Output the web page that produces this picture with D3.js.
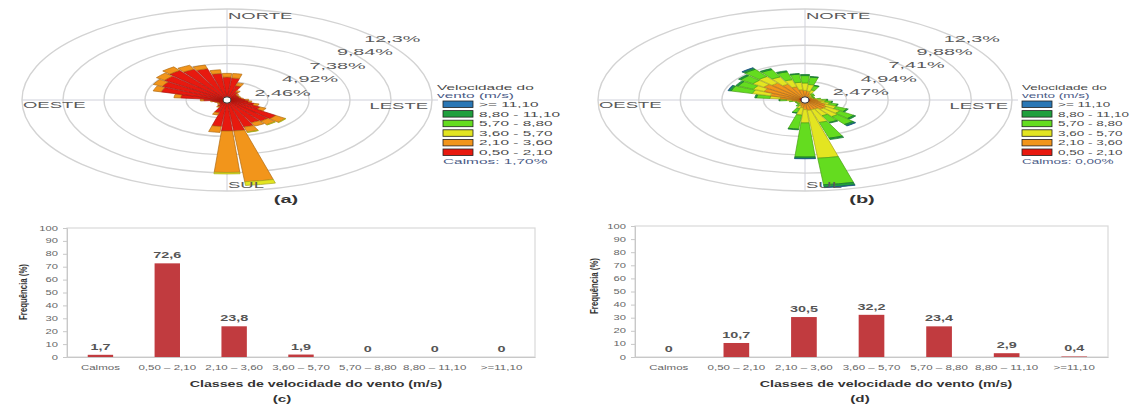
<!DOCTYPE html>
<html><head><meta charset="utf-8">
<script src="https://cdn.jsdelivr.net/npm/d3@7"></script>
<style>body{margin:0;background:#fff}svg{display:block}</style>
</head><body>
<svg id="c" width="1137" height="404"></svg>
<script>
// ---------------- DATA ----------------
const roseDirs = [0,10,20,30,40,50,60,70,80,90,100,110,120,130,140,150,160,170,180,190,200,210,220,230,240,250,260,270,280,290,300,310,320,330,340,350];
const speedLabels = ["0,50 - 2,10","2,10 - 3,60","3,60 - 5,70","5,70 - 8,80","8,80 - 11,10",">= 11,10"];
const speedColors = ["#e8190f","#f2951b","#e3e521","#64dc1f","#1f9f3d","#2a77b5"];
const cardinals = ["NORTE","LESTE","SUL","OESTE"];

const ringsA = [2.46,4.92,7.38,9.84,12.3];
const ringLabelsA = ["2,46%","4,92%","7,38%","9,84%","12,3%"];
const ringsB = [2.47,4.94,7.41,9.88,12.3];
const ringLabelsB = ["2,47%","4,94%","7,41%","9,88%","12,3%"];
const calmA = "Calmos: 1,70%";
const calmB = "Calmos: 0,00%";

// rose (a): frequency (%) per direction for each speed class
const roseA_050_210 = [3.1,3.0,2.0,1.2,0.9,0.8,0.8,0.8,0.9,1.1,1.3,1.7,2.2,3.6,3.5,3.4,3.8,4.2,4.2,3.6,1.8,1.0,0.7,0.6,0.6,0.7,0.9,1.4,2.8,4.1,4.3,4.6,4.9,4.6,4.4,3.6];
const roseA_210_360 = [0.5,0.6,0.4,0.2,0.1,0.1,0.1,0.1,0.1,0.2,0.2,0.3,0.4,0.7,0.6,0.5,0.7,6.9,5.6,0.8,0.3,0.1,0.1,0.1,0.1,0.1,0.1,0.2,0.4,0.5,0.6,0.6,0.6,0.6,0.5,0.5];
const roseA_360_570 = [0,0,0,0,0,0,0,0,0,0,0,0,0,0.05,0.05,0,0.05,0.5,0.2,0,0,0,0,0,0,0,0,0,0,0,0,0,0,0,0,0];

// rose (b)
const roseB_050_210 = [0.3,0.3,0.3,0.25,0.25,0.25,0.25,0.25,0.25,0.3,0.3,0.3,0.35,0.35,0.35,0.35,0.35,0.4,0.4,0.35,0.3,0.25,0.25,0.25,0.25,0.25,0.25,0.3,0.3,0.35,0.4,0.4,0.4,0.35,0.35,0.3];
const roseB_210_360 = [1.0,0.9,0.6,0.3,0.2,0.2,0.2,0.2,0.3,0.4,0.5,0.7,1.0,1.2,1.2,1.0,1.0,1.0,0.9,0.7,0.5,0.3,0.2,0.2,0.2,0.2,0.3,0.5,1.2,1.8,2.3,2.6,2.4,2.0,1.5,1.1];
const roseB_360_570 = [1.0,0.9,0.5,0.2,0.2,0.1,0.1,0.1,0.2,0.3,0.4,0.5,0.7,1.0,1.2,1.0,1.8,6.5,1.8,1.0,0.4,0.2,0.1,0.1,0.1,0.1,0.2,0.3,0.6,1.1,0.7,0.8,1.1,1.1,1.0,1.0];
const roseB_570_880 = [1.0,1.0,0.6,0.2,0.2,0.1,0.1,0.1,0.2,0.3,0.4,0.5,0.7,1.0,1.3,1.0,2.2,3.6,4.6,1.9,0.6,0.2,0.1,0.1,0.1,0.1,0.2,0.4,0.8,1.3,1.0,0.9,1.2,1.1,1.1,1.1];
const roseB_880_1110 = [0.15,0.1,0.05,0,0,0,0,0,0,0.05,0.05,0.05,0.1,0.15,0.2,0.1,0.2,0.35,0.2,0.1,0.05,0,0,0,0,0,0,0.05,0.1,0.15,0.15,0.15,0.2,0.15,0.15,0.1];
const roseB_1110 = [0,0,0,0,0,0,0,0,0,0,0,0,0,0,0.05,0,0,0.05,0.05,0,0,0,0,0,0,0,0,0,0,0.05,0,0,0.05,0,0,0];

// bar charts
const barCats = ["Calmos","0,50 – 2,10","2,10 – 3,60","3,60 – 5,70","5,70 – 8,80","8,80 – 11,10",">=11,10"];
const barValsC = [1.7,72.6,23.8,1.9,0,0,0];
const barLabelsC = ["1,7","72,6","23,8","1,9","0","0","0"];
const barValsD = [0,10.7,30.5,32.2,23.4,2.9,0.4];
const barLabelsD = ["0","10,7","30,5","32,2","23,4","2,9","0,4"];
const yTicks = [0,10,20,30,40,50,60,70,80,90,100];
const yTitle = "Frequência (%)";
const xTitle = "Classes de velocidade do vento (m/s)";

// ---------------- DRAW ----------------
const svg = d3.select("#c");
const FONT = "'Liberation Sans', Arial, sans-serif";

function stext(parent, x, y, str, o) {
  o = o || {};
  return parent.append("text")
    .attr("transform", `translate(${x},${y}) scale(${o.sx || 1},1)` + (o.rot ? ` rotate(${o.rot})` : ""))
    .attr("text-anchor", o.anchor || "start")
    .attr("font-family", FONT)
    .attr("font-size", o.size || 8)
    .attr("font-weight", o.bold ? "bold" : "normal")
    .attr("fill", o.fill || "#585858")
    .text(str);
}

function drawRose(cfg) {
  const g = svg.append("g");
  const cx = cfg.cx, cy = cfg.cy, rx = cfg.rx, ry = cfg.ry, k = ry / rx;
  const r = d3.scaleLinear().domain([0, d3.max(cfg.rings)]).range([0, rx]);

  // axis lines
  g.append("line").attr("x1", cx - rx).attr("x2", cx + rx + 6).attr("y1", cy).attr("y2", cy)
    .attr("stroke", "#c9cbd6").attr("stroke-width", 0.9);
  g.append("line").attr("x1", cx).attr("x2", cx).attr("y1", cy - ry).attr("y2", cy + ry)
    .attr("stroke", "#c9cbd6").attr("stroke-width", 0.9);

  const pg = g.append("g").attr("transform", `translate(${cx},${cy}) scale(1,${k})`);
  pg.selectAll("circle.ring").data(cfg.rings).join("circle").attr("class", "ring")
    .attr("r", d => r(d)).attr("fill", "none").attr("stroke", "#d3d3d3")
    .attr("stroke-width", 1.4).attr("vector-effect", "non-scaling-stroke");

  // stacked petals
  const stacked = [];
  roseDirs.forEach((dir, i) => {
    let acc = 0;
    cfg.series.forEach((s, j) => {
      const v = s[i];
      if (v > 0) stacked.push({dir: dir, y0: acc, y1: acc + v, c: j});
      acc += v;
    });
  });
  const w = 9 * Math.PI / 180;
  const arc = d3.arc()
    .innerRadius(d => r(d.y0)).outerRadius(d => r(d.y1))
    .startAngle(d => d.dir * Math.PI / 180 - w / 2)
    .endAngle(d => d.dir * Math.PI / 180 + w / 2);
  pg.selectAll("path.petal").data(stacked).join("path").attr("class", "petal")
    .attr("d", arc)
    .attr("fill", d => speedColors[d.c])
    .attr("stroke", d => d3.color(speedColors[d.c]).darker(0.9))
    .attr("stroke-width", 0.7).attr("vector-effect", "non-scaling-stroke");

  g.append("ellipse").attr("cx", cx).attr("cy", cy).attr("rx", 4).attr("ry", 3.2)
    .attr("fill", "#fff").attr("stroke", "#333").attr("stroke-width", 1);

  // ring labels
  cfg.rings.forEach((v, i) => {
    stext(g, cx + r(v) * 0.67, cy - r(v) * k * 0.74 + 9, cfg.ringLabels[i], {size: 9, sx: 2.2, fill: "#5a5a5a"});
  });

  // cardinal labels
  const cs = {size: 8.8, sx: 2.1, fill: "#5a5a5a"};
  stext(g, cx + 1, cy - ry + 10, cardinals[0], cs);
  stext(g, cx + rx - 4, cy + 9, cardinals[1], Object.assign({anchor: "end"}, cs));
  stext(g, cx + 1, cy + ry - 3, cardinals[2], cs);
  stext(g, cx - rx + 1, cy + 8, cardinals[3], cs);

  // legend
  const L = cfg.legend;
  const ls = {size: 7, sx: L.stretch, fill: "#4a4a4a"};
  stext(g, L.tx, 90, "Velocidade do", ls);
  stext(g, L.tx, 98, "vento (m/s)", Object.assign({}, ls, {fill: "#4a5a86"}));
  [5, 4, 3, 2, 1, 0].forEach((c, i) => {
    const yy = 101 + i * 9.6;
    g.append("rect").attr("x", L.sx).attr("y", yy).attr("width", 30).attr("height", 6.5)
      .attr("fill", speedColors[c]).attr("stroke", "#222").attr("stroke-width", 0.8);
    stext(g, L.sx + 36, yy + 6, speedLabels[c], ls);
  });
  stext(g, L.sx, 164, cfg.calm, Object.assign({}, ls, {fill: "#4a5a86"}));

  stext(g, cfg.tagX, 203, cfg.tag, {size: 10, sx: 2.0, bold: true, anchor: "middle", fill: "#333"});
}

function drawBars(cfg) {
  const g = svg.append("g");
  const x = d3.scaleBand().domain(barCats).range([cfg.x0, cfg.x1]).paddingInner(0.62).paddingOuter(0.31);
  const y = d3.scaleLinear().domain([0, 100]).range([cfg.yb, cfg.yt]);

  g.append("rect").attr("x", cfg.x0).attr("y", cfg.yt).attr("width", cfg.x1 - cfg.x0)
    .attr("height", cfg.yb - cfg.yt).attr("fill", "none").attr("stroke", "#d9d9d9").attr("stroke-width", 1.2);

  const ya = g.append("g").attr("transform", `translate(${cfg.x0},0)`)
    .call(d3.axisLeft(y).tickValues(yTicks).tickSize(4).tickFormat(""));
  ya.select(".domain").attr("stroke", "#c8c8c8");
  ya.selectAll(".tick line").attr("stroke", "#c8c8c8");
  yTicks.forEach(t => stext(g, cfg.x0 - 9, y(t) + 2.5, String(t), {anchor: "end", size: 7, sx: 1.6, fill: "#666"}));

  const xa = g.append("g").attr("transform", `translate(0,${cfg.yb})`)
    .call(d3.axisBottom(x).tickSize(0).tickFormat(""));
  xa.select(".domain").attr("stroke", "#c8c8c8");

  g.selectAll("rect.bar").data(cfg.vals).join("rect").attr("class", "bar")
    .attr("x", (d, i) => x(barCats[i])).attr("width", x.bandwidth())
    .attr("y", d => y(d)).attr("height", d => y(0) - y(d))
    .attr("fill", "#c13b3f");

  cfg.vals.forEach((v, i) => {
    stext(g, x(barCats[i]) + x.bandwidth() / 2, y(v) - 5, cfg.labels[i], {anchor: "middle", size: 9, sx: 1.6, bold: true, fill: "#555"});
    stext(g, x(barCats[i]) + x.bandwidth() / 2, cfg.yb + 13, barCats[i], {anchor: "middle", size: 7, sx: 1.65, fill: "#666"});
  });

  stext(g, cfg.titleX, 387, xTitle, {anchor: "middle", size: 9.3, sx: 1.53, bold: true, fill: "#333"});
  stext(g, cfg.yTitleX, cfg.yTitleY, yTitle, {anchor: "middle", size: 7.8, sx: 1.4, bold: true, fill: "#333", rot: -90});
  stext(g, cfg.tagX, 402, cfg.tag, {anchor: "middle", size: 9.5, sx: 1.6, bold: true, fill: "#333"});
}

drawRose({cx: 227, cy: 100, rx: 205, ry: 91, rings: ringsA, ringLabels: ringLabelsA,
  series: [roseA_050_210, roseA_210_360, roseA_360_570], calm: calmA,
  legend: {tx: 437, sx: 443, stretch: 2.2}, tag: "(a)", tagX: 286});
drawRose({cx: 805, cy: 100, rx: 207, ry: 91, rings: ringsB, ringLabels: ringLabelsB,
  series: [roseB_050_210, roseB_210_360, roseB_360_570, roseB_570_880, roseB_880_1110, roseB_1110], calm: calmB,
  legend: {tx: 1022, sx: 1022, stretch: 1.93}, tag: "(b)", tagX: 862});

drawBars({x0: 67, x1: 535, yt: 228, yb: 357, vals: barValsC, labels: barLabelsC,
  titleX: 316, yTitleX: 27, yTitleY: 292, tagX: 282, tag: "(c)"});
drawBars({x0: 635, x1: 1108, yt: 226, yb: 357, vals: barValsD, labels: barLabelsD,
  titleX: 886, yTitleX: 598, yTitleY: 286, tagX: 860, tag: "(d)"});
</script>
</body></html>
